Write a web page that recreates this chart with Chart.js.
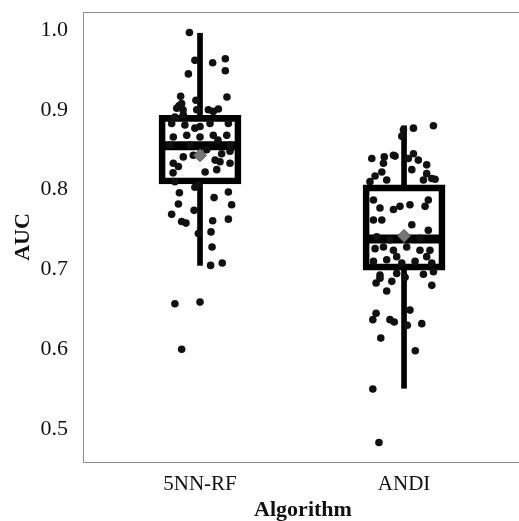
<!DOCTYPE html>
<html>
<head>
<meta charset="utf-8">
<script src="https://cdn.jsdelivr.net/npm/chart.js@4"></script>
<style>
  html, body { margin: 0; padding: 0; background: #fff; overflow: hidden; }
  canvas { display: block; }
</style>
</head>
<body>
<canvas id="aucChart" width="526" height="521"></canvas>
<script>
const categories = ['5NN-RF', 'ANDI'];
const yTicks = [0.5, 0.6, 0.7, 0.8, 0.9, 1.0];

// box summaries per algorithm
const whiskerLow = [0.705, 0.551];
const q1 = [0.807, 0.699];
const median = [0.855, 0.738];
const q3 = [0.893, 0.806];
const whiskerHigh = [0.996, 0.880];
const meanAUC = [0.843, 0.742];

// individual runs (AUC) with their horizontal jitter, in category units
const rfAUC = [0.997, 0.962, 0.959, 0.964, 0.949, 0.945, 0.916, 0.917, 0.912, 0.902,
  0.908, 0.900, 0.900, 0.900, 0.901, 0.898, 0.894, 0.891, 0.905, 0.883,
  0.881, 0.877, 0.879, 0.883, 0.883, 0.866, 0.868, 0.866, 0.868, 0.868,
  0.862, 0.856, 0.856, 0.856, 0.841, 0.843, 0.850, 0.845, 0.848, 0.833,
  0.829, 0.837, 0.833, 0.835, 0.822, 0.825, 0.821, 0.810, 0.806, 0.796,
  0.803, 0.790, 0.797, 0.781, 0.782, 0.774, 0.769, 0.760, 0.758, 0.761,
  0.763, 0.745, 0.747, 0.728, 0.705, 0.708, 0.657, 0.659, 0.600];
const rfJitter = [-0.052, -0.025, 0.062, 0.124, 0.124, -0.057, 0.132, -0.095, -0.020, -0.114,
  -0.090, -0.083, -0.016, 0.041, 0.090, 0.065, -0.082, -0.123, -0.103, -0.139,
  -0.074, -0.025, 0.000, 0.049, 0.139, -0.131, -0.065, 0.000, 0.065, 0.131,
  0.088, -0.147, -0.049, 0.147, -0.082, -0.033, 0.033, 0.106, 0.147, -0.131,
  -0.106, 0.074, 0.147, 0.098, 0.025, 0.082, -0.132, -0.123, -0.008, -0.101,
  -0.025, 0.069, 0.139, 0.155, -0.106, -0.029, -0.139, -0.090, -0.069, 0.062,
  0.139, -0.008, 0.054, 0.059, 0.052, 0.109, -0.123, 0.000, -0.090];

const andiAUC = [0.880, 0.877, 0.875, 0.867, 0.839, 0.841, 0.843, 0.833, 0.845, 0.839,
  0.837, 0.831, 0.822, 0.825, 0.820, 0.810, 0.812, 0.814, 0.812, 0.842,
  0.817, 0.813, 0.787, 0.777, 0.775, 0.779, 0.781, 0.787, 0.779, 0.762,
  0.762, 0.756, 0.749, 0.741, 0.737, 0.739, 0.726, 0.728, 0.724, 0.728,
  0.724, 0.724, 0.710, 0.712, 0.716, 0.708, 0.710, 0.716, 0.708, 0.693,
  0.695, 0.683, 0.689, 0.685, 0.673, 0.690, 0.694, 0.680, 0.697, 0.645,
  0.637, 0.637, 0.634, 0.649, 0.630, 0.632, 0.614, 0.598, 0.550, 0.483];
const andiJitter = [0.144, 0.046, -0.003, -0.011, -0.158, -0.097, -0.052, -0.101, 0.046, 0.021,
  0.070, 0.111, -0.109, 0.038, 0.111, -0.167, -0.085, 0.136, 0.095, -0.044,
  -0.142, 0.152, -0.150, -0.118, -0.052, -0.020, 0.029, 0.119, 0.103, -0.150,
  -0.109, 0.038, 0.119, -0.134, -0.069, 0.078, -0.142, -0.101, -0.052, 0.013,
  0.078, 0.127, -0.150, -0.085, -0.036, -0.011, 0.054, 0.111, 0.136, -0.118,
  -0.036, -0.137, -0.118, -0.060, -0.085, 0.005, 0.095, 0.136, 0.144, -0.137,
  -0.153, -0.069, -0.048, 0.029, 0.016, 0.087, -0.114, 0.055, -0.153, -0.123];

const serif = '"Liberation Serif", "Times New Roman", serif';
const frame = { display: true, color: '#8c8c8c', width: 1, dash: [1, 1] };

function noPadding(scale) {
  scale.paddingLeft = 0;
  scale.paddingRight = 0;
  scale.paddingTop = 0;
  scale.paddingBottom = 0;
}

const catX = categories.map((c, i) => i + 1);
const runPoints = [
  ...rfAUC.map((v, i) => ({ x: catX[0] + rfJitter[i], y: v })),
  ...andiAUC.map((v, i) => ({ x: catX[1] + andiJitter[i], y: v }))
];

const ctx = document.getElementById('aucChart').getContext('2d');
const aucChart = new Chart(ctx, {
  type: 'scatter',
  data: {
    datasets: [
      {
        label: 'Mean',
        data: catX.map((x, i) => ({ x: x, y: meanAUC[i] })),
        pointStyle: 'rectRot',
        radius: 6.5,
        backgroundColor: '#767676',
        borderColor: '#555',
        borderWidth: 1,
        order: 0
      },
      {
        label: 'Runs',
        data: runPoints,
        pointStyle: 'circle',
        radius: 3.8,
        backgroundColor: '#111',
        borderWidth: 0,
        order: 1
      },
      {
        label: 'Median',
        data: catX.map((x, i) => ({ x: x, y: median[i] })),
        pointStyle: 'line',
        radius: 40.5,
        borderColor: '#000',
        borderWidth: 9,
        order: 2
      },
      {
        type: 'bar',
        label: 'Box',
        data: catX.map((x, i) => ({ x: x, y: [q1[i], q3[i]] })),
        backgroundColor: 'rgba(0,0,0,0)',
        borderColor: '#000',
        borderWidth: 6,
        borderSkipped: false,
        barThickness: 82,
        grouped: false,
        order: 3
      },
      {
        type: 'bar',
        label: 'Upper whisker',
        data: catX.map((x, i) => ({ x: x, y: [q3[i], whiskerHigh[i]] })),
        backgroundColor: '#000',
        borderWidth: 0,
        barThickness: 5,
        grouped: false,
        order: 4
      },
      {
        type: 'bar',
        label: 'Lower whisker',
        data: catX.map((x, i) => ({ x: x, y: [whiskerLow[i], q1[i]] })),
        backgroundColor: '#000',
        borderWidth: 0,
        barThickness: 5,
        grouped: false,
        order: 4
      }
    ]
  },
  options: {
    responsive: false,
    animation: false,
    events: [],
    layout: { autoPadding: false, padding: { top: 12, right: 3, left: 0, bottom: 0 } },
    plugins: {
      legend: { display: false },
      tooltip: { enabled: false }
    },
    scales: {
      x: {
        type: 'linear',
        position: 'bottom',
        min: 0.4265,
        max: 2.583,
        offset: false,
        grid: { display: false, drawTicks: false, offset: false },
        border: frame,
        afterBuildTicks: (scale) => { scale.ticks = catX.map(v => ({ value: v })); },
        afterFit: (scale) => { scale.height = 59; noPadding(scale); },
        ticks: {
          padding: 10,
          color: '#111',
          font: { family: serif, size: 21 },
          callback: (v) => categories[Math.round(v) - 1]
        },
        title: {
          display: true,
          text: 'Algorithm',
          color: '#111',
          padding: { top: 0, bottom: -3 },
          font: { family: serif, size: 22, weight: 'bold' }
        }
      },
      xTop: {
        type: 'linear',
        position: 'top',
        grid: { display: false, drawTicks: false },
        border: frame,
        ticks: { display: false },
        afterFit: (scale) => { scale.height = 0; noPadding(scale); }
      },
      y: {
        min: 0.4586,
        max: 1.0226,
        grid: { display: false, drawTicks: false },
        border: frame,
        afterBuildTicks: (scale) => { scale.ticks = yTicks.map(v => ({ value: v })); },
        afterFit: (scale) => { scale.width = 83; noPadding(scale); },
        ticks: {
          padding: 15,
          color: '#111',
          font: { family: serif, size: 22 },
          callback: (v) => v.toFixed(1)
        },
        title: {
          display: true,
          text: 'AUC',
          color: '#111',
          padding: { top: 10, bottom: 0 },
          font: { family: serif, size: 22, weight: 'bold' }
        }
      }
    }
  }
});
</script>
</body>
</html>
